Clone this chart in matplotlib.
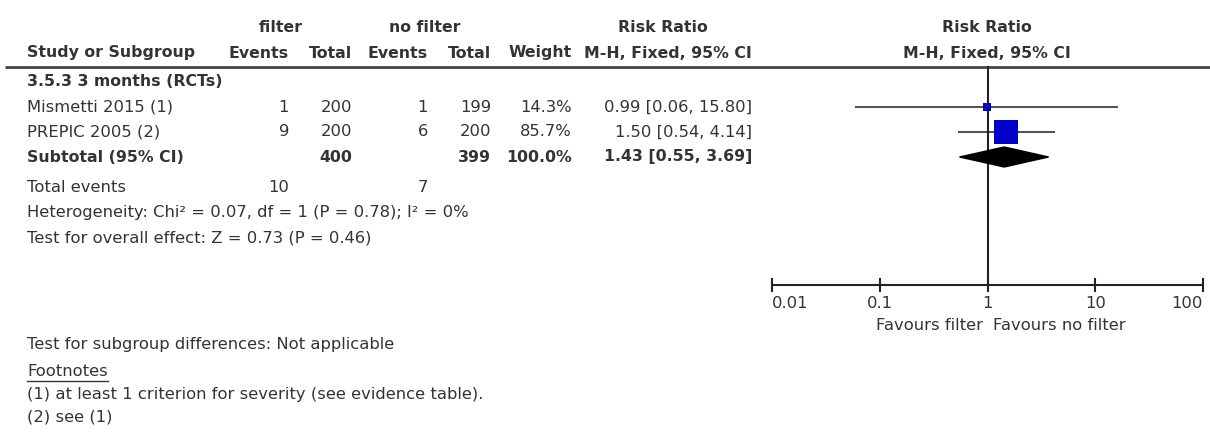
import numpy as np
import matplotlib
matplotlib.use("Agg")
import matplotlib.pyplot as plt
from matplotlib.patches import Polygon

# study data
studies = ["Mismetti 2015 (1)", "PREPIC 2005 (2)"]
ev_filter = [1, 9]
tot_filter = [200, 200]
ev_nofilter = [1, 6]
tot_nofilter = [199, 200]
weights = [14.3, 85.7]
rr = [0.99, 1.50]
ci_lo = [0.06, 0.54]
ci_hi = [15.80, 4.14]

# pooled
sub_tot_filter = 400
sub_tot_nofilter = 399
sub_weight = 100.0
sub_rr = 1.43
sub_lo = 0.55
sub_hi = 3.69
total_ev_filter = 10
total_ev_nofilter = 7

axis_ticks = [0.01, 0.1, 1, 10, 100]
axis_ticklabels = ["0.01", "0.1", "1", "10", "100"]

W, H = 1210, 433
TXT = "#333333"
LINE = "#555555"
FS = 11.8
FSB = 11.3

plt.rcParams["font.family"] = ["DejaVu Sans"]

fig = plt.figure(figsize=(W / 100, H / 100), dpi=100)
ax = fig.add_axes([0, 0, 1, 1])
ax.set_xlim(0, W)
ax.set_ylim(H, 0)
ax.axis("off")

# forest panel: log x, pixel rows
x0, x1 = 772, 1203
fx = fig.add_axes([x0 / W, 0, (x1 - x0) / W, 1])
fx.set_xscale("log")
fx.set_xlim(0.01, 100)
fx.set_ylim(H, 0)
fx.axis("off")


def t(x, y, s, ha="left", bold=False, **kw):
    ax.text(x, y, s, ha=ha, va="center", fontsize=FSB if bold else FS,
            color=TXT, fontweight="bold" if bold else "normal", **kw)


# column right edges
c_ev1, c_tot1, c_ev2, c_tot2, c_w, c_ci = 289, 352, 428, 491, 572, 752
left = 27

# headers
t(281, 28, "filter", ha="center", bold=True)
t(425, 28, "no filter", ha="center", bold=True)
t(663, 28, "Risk Ratio", ha="center", bold=True)
t(987, 28, "Risk Ratio", ha="center", bold=True)
t(left, 53, "Study or Subgroup", bold=True)
t(c_ev1, 53, "Events", ha="right", bold=True)
t(c_tot1, 53, "Total", ha="right", bold=True)
t(c_ev2, 53, "Events", ha="right", bold=True)
t(c_tot2, 53, "Total", ha="right", bold=True)
t(c_w, 53, "Weight", ha="right", bold=True)
t(c_ci, 53, "M-H, Fixed, 95% CI", ha="right", bold=True)
t(987, 53, "M-H, Fixed, 95% CI", ha="center", bold=True)
ax.plot([5, W], [67, 67], color="#444444", lw=2, solid_capstyle="butt")

t(left, 82, "3.5.3 3 months (RCTs)", bold=True)

rows_y = [107, 132]
for i, name in enumerate(studies):
    y = rows_y[i]
    t(left, y, name)
    t(c_ev1, y, str(ev_filter[i]), ha="right")
    t(c_tot1, y, str(tot_filter[i]), ha="right")
    t(c_ev2, y, str(ev_nofilter[i]), ha="right")
    t(c_tot2, y, str(tot_nofilter[i]), ha="right")
    t(c_w, y, f"{weights[i]:.1f}%", ha="right")
    t(c_ci, y, f"{rr[i]:.2f} [{ci_lo[i]:.2f}, {ci_hi[i]:.2f}]", ha="right")
    fx.plot([ci_lo[i], ci_hi[i]], [y, y], color=LINE, lw=1.5, zorder=2)
    side = max(8, 28 * weights[i] / 100)
    fx.plot([rr[i]], [y], marker="s", ms=side * 0.72, mew=0,
            color="#0000c8", zorder=4)

ys = 157
t(left, ys, "Subtotal (95% CI)", bold=True)
t(c_tot1, ys, str(sub_tot_filter), ha="right", bold=True)
t(c_tot2, ys, str(sub_tot_nofilter), ha="right", bold=True)
t(c_w, ys, f"{sub_weight:.1f}%", ha="right", bold=True)
t(c_ci, ys, f"{sub_rr:.2f} [{sub_lo:.2f}, {sub_hi:.2f}]", ha="right", bold=True)
fx.add_patch(Polygon([[sub_lo, ys], [sub_rr, ys - 10], [sub_hi, ys], [sub_rr, ys + 10]],
                     closed=True, color="black", zorder=5))

t(left, 188, "Total events")
t(c_ev1, 188, str(total_ev_filter), ha="right")
t(c_ev2, 188, str(total_ev_nofilter), ha="right")
t(left, 213, "Heterogeneity: Chi\u00b2 = 0.07, df = 1 (P = 0.78); I\u00b2 = 0%")
t(left, 238, "Test for overall effect: Z = 0.73 (P = 0.46)")

# axis
ay = 285
fx.plot([1, 1], [67, ay], color="#222222", lw=1.5, zorder=3)
fx.plot([0.01, 100], [ay, ay], color="#222222", lw=1.5, clip_on=False)
for i, tk in enumerate(axis_ticks):
    fx.plot([tk, tk], [ay - 6, ay + 6], color="#222222", lw=1.5, clip_on=False)
    ha = "left" if i == 0 else ("right" if i == len(axis_ticks) - 1 else "center")
    fx.text(tk, 304, axis_ticklabels[i], ha=ha, va="center", fontsize=FS, color=TXT)
fx.text(0.9, 326, "Favours filter", ha="right", va="center", fontsize=FS, color=TXT)
fx.text(1.12, 326, "Favours no filter", ha="left", va="center", fontsize=FS, color=TXT)

t(left, 345, "Test for subgroup differences: Not applicable")
fn = ax.text(left, 372, "Footnotes", ha="left", va="center", fontsize=FS, color=TXT)
fig.canvas.draw()
bb = fn.get_window_extent(renderer=fig.canvas.get_renderer())
ax.plot([left, left + bb.width], [381, 381], color=TXT, lw=1)
t(left, 395, "(1) at least 1 criterion for severity (see evidence table).")
t(left, 417, "(2) see (1)")

fig.savefig("out.png", dpi=100)
